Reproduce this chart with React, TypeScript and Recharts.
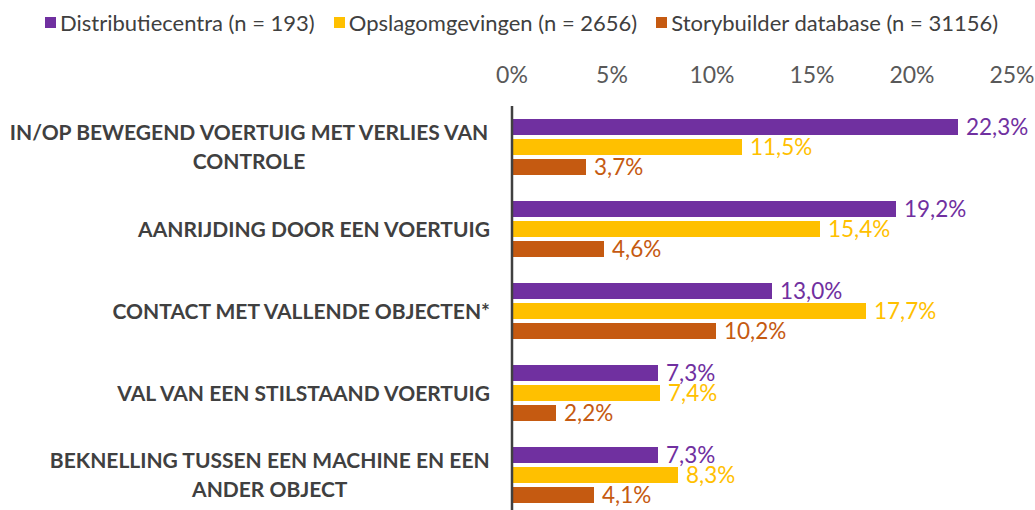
import { Bar, BarChart, LabelList, Legend, XAxis, YAxis } from "recharts";

const categories = [
  "IN/OP BEWEGEND VOERTUIG MET VERLIES VAN\nCONTROLE",
  "AANRIJDING DOOR EEN VOERTUIG",
  "CONTACT MET VALLENDE OBJECTEN*",
  "VAL VAN EEN STILSTAAND VOERTUIG",
  "BEKNELLING TUSSEN EEN MACHINE EN EEN\nANDER OBJECT",
];
const distributiecentra = [22.3, 19.2, 13.0, 7.3, 7.3];
const opslagomgevingen = [11.5, 15.4, 17.7, 7.4, 8.3];
const storybuilder = [3.7, 4.6, 10.2, 2.2, 4.1];
const xTicks = [0, 5, 10, 15, 20, 25];

const series = [
  { key: "dc", name: "Distributiecentra (n = 193)", color: "#7030A0" },
  { key: "og", name: "Opslagomgevingen (n = 2656)", color: "#FFC000" },
  { key: "sb", name: "Storybuilder database (n = 31156)", color: "#C55A11" },
];

const data = categories.map((cat, i) => ({
  cat,
  dc: distributiecentra[i],
  og: opslagomgevingen[i],
  sb: storybuilder[i],
}));

const FONT = "Lato, 'Open Sans', sans-serif";

let ctx: CanvasRenderingContext2D | null = null;
function textWidth(text: string, font: string) {
  if (!ctx) ctx = document.createElement("canvas").getContext("2d");
  if (!ctx) return text.length * 12;
  ctx.font = font;
  return ctx.measureText(text).width;
}

function CategoryTick({ y, payload }: any) {
  const lines = String(payload.value).split("\n");
  const right = 490;
  const widest = Math.max(...lines.map((l) => textWidth(l, "bold 21px Lato")));
  const lh = 29;
  const start = y - ((lines.length - 1) * lh) / 2;
  return (
    <g>
      {lines.map((line, i) => (
        <text
          key={i}
          x={lines.length > 1 ? right - widest / 2 : right}
          y={start + i * lh}
          dy="0.36em"
          textAnchor={lines.length > 1 ? "middle" : "end"}
          fill="#404040"
          fontFamily={FONT}
          fontWeight="bold"
          fontSize={21}
        >
          {line}
        </text>
      ))}
    </g>
  );
}

function LegendContent() {
  return (
    <div style={{ height: 44, width: 1035, display: "flex", alignItems: "center", paddingLeft: 45, fontFamily: FONT, fontSize: 22, color: "#404040", whiteSpace: "nowrap", boxSizing: "border-box" }}>
      {series.map((s) => (
        <div key={s.key} style={{ display: "flex", alignItems: "center", marginRight: 19, flexShrink: 0 }}>
          <span style={{ width: 11, height: 11, background: s.color, display: "inline-block", marginRight: 4 }} />
          <span>{s.name}</span>
        </div>
      ))}
    </div>
  );
}

const fmt = (v: any) => `${Number(v).toFixed(1).replace(".", ",")}%`;

export default function App() {
  return (
    <div style={{ position: "absolute", left: 0, top: 0, width: 1035, height: 510, overflow: "hidden", background: "#fff" }}>
      <BarChart
        width={1035}
        height={516}
        data={data}
        layout="vertical"
        margin={{ top: 0, right: 23, bottom: 0, left: 0 }}
        barSize={16}
        barGap={4}
      >
        <Legend verticalAlign="top" align="left" content={<LegendContent />} wrapperStyle={{ top: 0, left: 0, width: 1035 }} />
        <XAxis
          type="number"
          orientation="top"
          domain={[0, 25]}
          ticks={xTicks}
          tickFormatter={(v) => `${v}%`}
          axisLine={false}
          tickLine={false}
          height={62}
          tickMargin={17}
          tick={{ fill: "#595959", fontSize: 23, fontFamily: FONT }}
        />
        <YAxis
          type="category"
          dataKey="cat"
          width={512}
          axisLine={{ stroke: "#404040", strokeWidth: 2.5 }}
          tickLine={false}
          tick={<CategoryTick />}
          interval={0}
        />
        {series.map((s) => (
          <Bar key={s.key} dataKey={s.key} name={s.name} fill={s.color} isAnimationActive={false}>
            <LabelList dataKey={s.key} position="right" offset={8} fill={s.color} fontSize={22.5} fontFamily={FONT} formatter={fmt} />
          </Bar>
        ))}
      </BarChart>
    </div>
  );
}
